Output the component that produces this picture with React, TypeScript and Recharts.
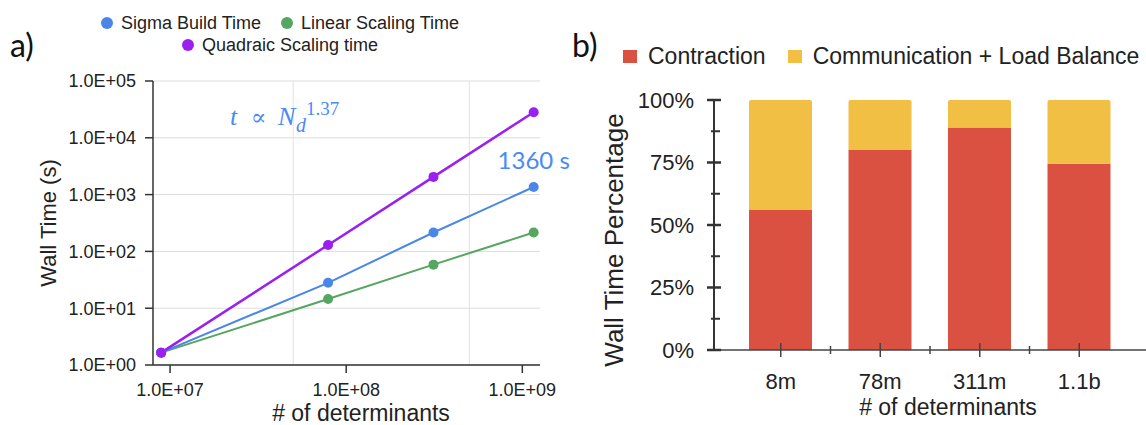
import React from 'react';
import {
  LineChart,
  Line,
  XAxis,
  YAxis,
  CartesianGrid,
  ReferenceLine,
  LabelList,
  BarChart,
  Bar,
} from 'recharts';

// ---- Panel a: wall time vs number of determinants (log-log) ----
const determinants = [8.9e6, 7.89e7, 3.13e8, 1.16e9];
const sigmaBuild = [1.65, 28, 215, 1360];
const linearScaling = [1.65, 14.5, 58.5, 215];
const quadraticScaling = [1.65, 130, 2050, 28200];
const xTicks = [1e7, 1e8, 1e9];
const yTicks = [1, 10, 100, 1e3, 1e4, 1e5];
const xGridMarks = [5e7, 5e8];

// ---- Panel b: share of wall time per run ----
const sizeLabels = ['8m', '78m', '311m', '1.1b'];
const contraction = [0.56, 0.8, 0.89, 0.745];
const communication = [0.44, 0.2, 0.11, 0.255];
const pctTicks = [0, 0.125, 0.25, 0.375, 0.5, 0.625, 0.75, 0.875, 1];

const BLUE = '#4a86e8';
const GREEN = '#55a660';
const PURPLE = '#9a1ff0';
const RED = '#da5141';
const YELLOW = '#f1bf44';
const NOTE_BLUE = '#4a8af4';
const SANS = '"Liberation Sans", Arial, sans-serif';

const lineSeries = [
  { key: 'linear', name: 'Linear Scaling Time', color: GREEN },
  { key: 'sigma', name: 'Sigma Build Time', color: BLUE },
  { key: 'quad', name: 'Quadraic Scaling time', color: PURPLE },
];

const lineData = determinants.map((n, i) => ({
  n,
  sigma: sigmaBuild[i],
  linear: linearScaling[i],
  quad: quadraticScaling[i],
}));

const barData = sizeLabels.map((label, i) => ({
  label,
  contraction: contraction[i],
  communication: communication[i],
}));

const expLabel = (v: number) => {
  const e = Math.round(Math.log10(v));
  const m = v / Math.pow(10, e);
  return `${m.toFixed(1)}E+${String(e).padStart(2, '0')}`;
};

// right panel geometry
const RIGHT_W = 566;
const RIGHT_Y_AXIS_W = 134;
const RIGHT_PAD = 17;
const HALF_BAND = (RIGHT_W - RIGHT_Y_AXIS_W - 2 * RIGHT_PAD) / sizeLabels.length / 2;

const PctTick = (props: any) => {
  const { x, y, payload } = props;
  const v = payload.value as number;
  const major = Math.abs(v * 4 - Math.round(v * 4)) < 1e-6;
  return (
    <g>
      <line
        x1={major ? x - 7 : x - 3}
        x2={major ? x + 7 : x + 6}
        y1={y}
        y2={y}
        stroke="#333"
        strokeWidth={major ? 2.5 : 2}
      />
      {major && (
        <text
          x={x - 20}
          y={y}
          textAnchor="end"
          dominantBaseline="central"
          fontSize={22}
          fontFamily={SANS}
          fill="#222"
        >
          {`${Math.round(v * 100)}%`}
        </text>
      )}
    </g>
  );
};

const SizeTick = (props: any) => {
  const { x, y, payload, index } = props;
  return (
    <g>
      <line x1={x} x2={x} y1={y - 7} y2={y + 7} stroke="#444" strokeWidth={1.5} />
      {index < sizeLabels.length - 1 && (
        <line
          x1={x + HALF_BAND}
          x2={x + HALF_BAND}
          y1={y - 4}
          y2={y + 4}
          stroke="#444"
          strokeWidth={1.5}
        />
      )}
      <text x={x} y={y + 39} textAnchor="middle" fontSize={22} fontFamily={SANS} fill="#222">
        {payload.value}
      </text>
    </g>
  );
};

const legendTop = [lineSeries[1], lineSeries[0]];
const legendBottom = [lineSeries[2]];

const LegendRow = ({ items, top }: { items: typeof lineSeries; top: number }) => (
  <div
    style={{
      position: 'absolute',
      left: 0,
      width: 560,
      top,
      height: 22,
      display: 'flex',
      justifyContent: 'center',
      alignItems: 'center',
      gap: 20,
      fontFamily: SANS,
      fontSize: 18,
      color: '#222',
      whiteSpace: 'nowrap',
    }}
  >
    {items.map((s) => (
      <div key={s.key} style={{ display: 'flex', alignItems: 'center' }}>
        <span
          style={{
            width: 12,
            height: 12,
            borderRadius: '50%',
            background: s.color,
            marginRight: 8,
            display: 'inline-block',
          }}
        />
        <span>{s.name}</span>
      </div>
    ))}
  </div>
);

const barSeries = [
  { key: 'contraction', name: 'Contraction', color: RED },
  { key: 'communication', name: 'Communication + Load Balance', color: YELLOW },
];

export default function App() {
  return (
    <div
      style={{
        position: 'absolute',
        left: 0,
        top: 0,
        width: 1146,
        height: 425,
        overflow: 'hidden',
        background: '#fff',
      }}
    >
      {/* panel a */}
      <div style={{ position: 'absolute', left: 0, top: 0 }}>
        <LineChart
          width={580}
          height={425}
          data={lineData}
          margin={{ top: 81, right: 40, bottom: 0, left: 0 }}
        >
          <CartesianGrid vertical={false} stroke="#dcdcdc" />
          {xGridMarks.map((v) => (
            <ReferenceLine key={v} x={v} stroke="#e2e2e2" strokeWidth={1} />
          ))}
          <XAxis
            dataKey="n"
            type="number"
            scale="log"
            domain={[8e6, 1.26e9]}
            allowDataOverflow
            ticks={xTicks}
            tickFormatter={expLabel}
            height={60}
            tickSize={8}
            tickMargin={10}
            axisLine={{ stroke: '#333', strokeWidth: 1.5 }}
            tickLine={{ stroke: '#333', strokeWidth: 1.5 }}
            tick={{ fontSize: 18, fontFamily: SANS, fill: '#222' }}
          />
          <YAxis
            type="number"
            scale="log"
            domain={[1, 1e5]}
            allowDataOverflow
            ticks={yTicks}
            tickFormatter={expLabel}
            width={153}
            tickSize={8}
            tickMargin={9}
            axisLine={{ stroke: '#333', strokeWidth: 1.5 }}
            tickLine={{ stroke: '#333', strokeWidth: 1.5 }}
            tick={{ fontSize: 18, fontFamily: SANS, fill: '#222' }}
          />
          {lineSeries.map((s) => (
            <Line
              key={s.key}
              type="linear"
              dataKey={s.key}
              name={s.name}
              stroke={s.color}
              strokeWidth={s.key === 'quad' ? 2.5 : 2}
              dot={{ r: 5, fill: s.color, stroke: s.color, strokeWidth: 0 }}
              activeDot={false}
              isAnimationActive={false}
            >
              {s.key === 'sigma' && (
                <LabelList
                  dataKey="sigma"
                  content={(p: any) =>
                    p.index === determinants.length - 1 ? (
                      <text
                        x={p.x}
                        y={p.y - 18}
                        textAnchor="middle"
                        fontSize={24}
                        fontFamily="Lato, sans-serif"
                        fill={NOTE_BLUE}
                      >
                        {`${p.value} s`}
                      </text>
                    ) : null
                  }
                />
              )}
            </Line>
          ))}
        </LineChart>
      </div>

      {/* panel b */}
      <div style={{ position: 'absolute', left: 580, top: 0 }}>
        <BarChart
          width={RIGHT_W}
          height={425}
          data={barData}
          margin={{ top: 100, right: 0, bottom: 0, left: 0 }}
        >
          <XAxis
            dataKey="label"
            type="category"
            height={75}
            padding={{ left: RIGHT_PAD, right: RIGHT_PAD }}
            tickSize={0}
            tickMargin={0}
            tickLine={false}
            axisLine={{ stroke: '#444', strokeWidth: 1.5 }}
            tick={<SizeTick />}
            interval={0}
          />
          <YAxis
            type="number"
            domain={[0, 1]}
            ticks={pctTicks}
            width={RIGHT_Y_AXIS_W}
            tickSize={0}
            tickMargin={0}
            tickLine={false}
            axisLine={{ stroke: '#333', strokeWidth: 2 }}
            tick={<PctTick />}
            interval={0}
          />
          <Bar
            dataKey="contraction"
            stackId="t"
            fill={RED}
            barSize={63}
            isAnimationActive={false}
          />
          <Bar
            dataKey="communication"
            stackId="t"
            fill={YELLOW}
            barSize={63}
            radius={[2, 2, 0, 0]}
            isAnimationActive={false}
          />
        </BarChart>
      </div>

      {/* legends */}
      <LegendRow items={legendTop} top={12} />
      <LegendRow items={legendBottom} top={34} />
      <div
        style={{
          position: 'absolute',
          left: 623,
          top: 44,
          height: 24,
          display: 'flex',
          alignItems: 'center',
          fontFamily: SANS,
          fontSize: 23,
          color: '#222',
          whiteSpace: 'nowrap',
        }}
      >
        {barSeries.map((s, i) => (
          <div
            key={s.key}
            style={{ display: 'flex', alignItems: 'center', marginLeft: i === 0 ? 0 : 22 }}
          >
            <span
              style={{
                width: 14,
                height: 13,
                background: s.color,
                marginRight: 11,
                display: 'inline-block',
              }}
            />
            <span>{s.name}</span>
          </div>
        ))}
      </div>

      {/* panel letters, formula and axis titles */}
      <svg
        width={1146}
        height={425}
        style={{ position: 'absolute', left: 0, top: 0, pointerEvents: 'none' }}
      >
        <text x={10} y={57} fontSize={32} fontFamily="Lato, sans-serif" fill="#111">
          a)
        </text>
        <text x={572} y={57} fontSize={32} fontFamily="Lato, sans-serif" fill="#111">
          b)
        </text>

        <g fill={NOTE_BLUE}>
          <text x={230} y={125} fontSize={26} fontStyle="italic" fontFamily='"Liberation Serif", serif'>
            t
          </text>
          <text x={251} y={125} fontSize={23} fontFamily='"DejaVu Serif", serif'>
            ∝
          </text>
          <text x={278} y={125} fontSize={26} fontStyle="italic" fontFamily='"Liberation Serif", serif'>
            N
          </text>
          <text x={296} y={132} fontSize={20} fontStyle="italic" fontFamily='"Liberation Serif", serif'>
            d
          </text>
          <text x={306} y={115} fontSize={19} fontFamily='"Liberation Serif", serif'>
            1.37
          </text>
        </g>

        <text
          x={48}
          y={223}
          transform="rotate(-90 48 223)"
          textAnchor="middle"
          dominantBaseline="central"
          fontSize={22}
          fontFamily={SANS}
          fill="#222"
        >
          Wall Time (s)
        </text>
        <text x={361} y={421} textAnchor="middle" fontSize={23} fontFamily={SANS} fill="#222">
          # of determinants
        </text>

        <text
          x={614}
          y={240}
          transform="rotate(-90 614 240)"
          textAnchor="middle"
          dominantBaseline="central"
          fontSize={26}
          fontFamily={SANS}
          fill="#222"
        >
          Wall Time Percentage
        </text>
        <text x={948} y={415} textAnchor="middle" fontSize={23} fontFamily={SANS} fill="#222">
          # of determinants
        </text>
      </svg>
    </div>
  );
}
